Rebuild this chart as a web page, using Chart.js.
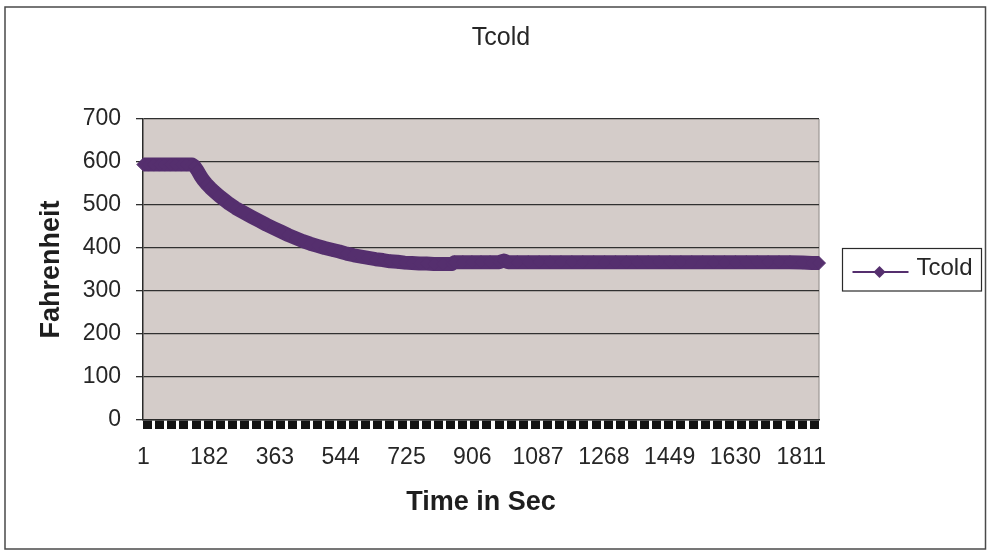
<!DOCTYPE html>
<html>
<head>
<meta charset="utf-8">
<script src="https://cdn.jsdelivr.net/npm/chart.js@4/dist/chart.umd.min.js"></script>
<style>
  html, body { margin: 0; padding: 0; background: #ffffff; }
  #wrap { position: relative; width: 987px; height: 551px; }
</style>
</head>
<body>
<div id="wrap"><canvas id="c" width="987" height="551"></canvas></div>
<script>
// ---- data ----
const chartTitle = 'Tcold';
const seriesName = 'Tcold';
const xTitle = 'Time in Sec';
const yTitle = 'Fahrenheit';
const xTickValues = [1, 182, 363, 544, 725, 906, 1087, 1268, 1449, 1630, 1811];
const yTickValues = [0, 100, 200, 300, 400, 500, 600, 700];

const timeSec = [
  1, 15, 30, 45, 60, 75, 90, 105, 120, 135,
  142, 150, 158, 166, 175, 185, 195, 210, 225, 237,
  255, 270, 285, 300, 320, 340, 360, 380, 400, 420,
  440, 460, 480, 500, 520, 540, 560, 580, 600, 620,
  640, 660, 680, 700, 720, 740, 760, 780, 800, 825,
  850, 857, 880, 905, 930, 955, 980, 993, 1005, 1030,
  1060, 1090, 1120, 1150, 1180, 1210, 1240, 1270, 1300, 1330,
  1360, 1390, 1420, 1450, 1480, 1510, 1540, 1570, 1600, 1630,
  1660, 1690, 1720, 1750, 1780, 1815, 1840, 1860
];
const tcold = [
  594, 594, 594, 594, 594, 594, 594, 594, 594, 594,
  590, 580, 568, 558, 549, 540, 532, 521, 511, 503,
  493, 486, 479, 472, 463, 454, 446, 438, 430, 423,
  416, 410, 405, 400, 396, 392, 387, 383, 380, 377,
  374, 372, 369, 368, 366, 365, 364, 364, 363, 363,
  363, 367, 367, 367, 367, 367, 367, 371, 367, 367,
  367, 367, 367, 367, 367, 367, 367, 367, 367, 367,
  367, 367, 367, 367, 367, 367, 367, 367, 367, 367,
  367, 367, 367, 367, 367, 366, 365, 365
];

// ---- styling ----
const purple = '#552f6e';
const plotBg = '#d4ccc9';
const gridCol = '#303030';
const textCol = '#262626';
Chart.defaults.font.family = "'Liberation Sans', Arial, Helvetica, sans-serif";
Chart.defaults.color = textCol;

const pagePlugin = {
  id: 'pageBg',
  beforeDraw(chart) {
    const {ctx, chartArea: a} = chart;
    ctx.save();
    ctx.fillStyle = '#ffffff';
    ctx.fillRect(0, 0, chart.width, chart.height);
    ctx.strokeStyle = '#4a4a4a';
    ctx.lineWidth = 1.5;
    ctx.strokeRect(5, 7, 980.5, 542);
    ctx.fillStyle = plotBg;
    ctx.fillRect(a.left, a.top, a.right - a.left, a.bottom - a.top);
    ctx.strokeStyle = '#9c9694';
    ctx.lineWidth = 1.2;
    ctx.beginPath();
    ctx.moveTo(a.right, a.top);
    ctx.lineTo(a.right, a.bottom);
    ctx.stroke();
    ctx.restore();
  }
};

const legendPlugin = {
  id: 'boxLegend',
  afterDraw(chart) {
    const {ctx, chartArea: a} = chart;
    const ds = chart.data.datasets[0];
    const left = a.right + 23.5;
    const cy = (a.top + a.bottom) / 2;
    const top = cy - 21;
    ctx.save();
    ctx.strokeStyle = '#2a2a2a';
    ctx.lineWidth = 1.2;
    ctx.strokeRect(left, top, 139, 42.5);
    const ly = cy + 2.5;
    ctx.strokeStyle = ds.borderColor;
    ctx.lineWidth = 2;
    ctx.beginPath();
    ctx.moveTo(left + 10, ly);
    ctx.lineTo(left + 66, ly);
    ctx.stroke();
    ctx.fillStyle = ds.borderColor;
    ctx.beginPath();
    ctx.moveTo(left + 31, ly); ctx.lineTo(left + 37, ly - 6);
    ctx.lineTo(left + 43, ly); ctx.lineTo(left + 37, ly + 6);
    ctx.closePath(); ctx.fill();
    ctx.fillStyle = textCol;
    ctx.font = "24px 'Liberation Sans', Arial, sans-serif";
    ctx.textBaseline = 'middle';
    ctx.textAlign = 'left';
    ctx.fillText(ds.label, left + 74, cy - 1.5);
    ctx.restore();
  }
};

new Chart(document.getElementById('c'), {
  type: 'line',
  data: {
    datasets: [{
      label: seriesName,
      data: timeSec.map((t, i) => ({x: t, y: tcold[i]})),
      borderColor: purple,
      backgroundColor: purple,
      borderWidth: 14,
      borderCapStyle: 'butt',
      borderJoinStyle: 'round',
      tension: 0,
      clip: false,
      pointStyle: 'rectRot',
      pointRadius: 6.5,
      pointBorderWidth: 1,
      pointBackgroundColor: purple,
      pointBorderColor: purple,
      xAxisID: 'x',
      yAxisID: 'y'
    }]
  },
  options: {
    responsive: false,
    animation: false,
    events: [],
    layout: {padding: {left: 15, right: 0, top: 0, bottom: 0}},
    plugins: {
      legend: {display: false},
      tooltip: {enabled: false},
      title: {
        display: true,
        text: chartTitle,
        color: textCol,
        font: {size: 25, weight: 'normal'},
        padding: {top: 23, bottom: 66}
      }
    },
    scales: {
      xm: {
        type: 'linear',
        position: 'bottom',
        weight: 0,
        min: -12.4,
        max: 1847.6,
        afterFit(s) { s.height = 9; },
        ticks: {display: false, stepSize: 33.36, includeBounds: false, autoSkip: false},
        grid: {display: true, drawOnChartArea: false, drawTicks: true, tickLength: 9, tickWidth: 9, tickColor: '#141414'},
        border: {display: true, color: '#2a2a2a', width: 1.5}
      },
      x: {
        type: 'linear',
        position: 'bottom',
        weight: 1,
        min: 0,
        max: 1860,
        afterFit(s) { s.height = 122; },
        afterBuildTicks(axis) { axis.ticks = xTickValues.map(v => ({value: v})); },
        ticks: {
          autoSkip: false, maxRotation: 0, minRotation: 0, padding: 15,
          color: textCol, font: {size: 23},
          callback: v => String(v)
        },
        grid: {display: false, drawTicks: false},
        border: {display: false},
        title: {
          display: true, text: xTitle, color: '#1e1e1e',
          font: {size: 27, weight: 'bold'},
          padding: {top: 0, bottom: 32}
        }
      },
      y: {
        type: 'linear',
        position: 'left',
        min: 0,
        max: 700,
        afterFit(s) { s.width = 128; },
        afterBuildTicks(axis) { axis.ticks = yTickValues.map(v => ({value: v})); },
        ticks: {padding: 15, color: textCol, font: {size: 23}},
        grid: {color: gridCol, lineWidth: 1.3, drawTicks: true, tickLength: 7, tickColor: gridCol},
        border: {display: true, color: '#2a2a2a', width: 1.5},
        title: {
          display: true, text: yTitle, color: '#1e1e1e',
          font: {size: 27, weight: 'bold'},
          padding: {top: 20, bottom: 0}
        }
      },
      yr: {
        type: 'linear',
        position: 'right',
        display: true,
        afterFit(s) { s.width = 168; },
        ticks: {display: false},
        grid: {display: false, drawTicks: false},
        border: {display: false}
      }
    }
  },
  plugins: [pagePlugin, legendPlugin]
});
</script>
</body>
</html>
